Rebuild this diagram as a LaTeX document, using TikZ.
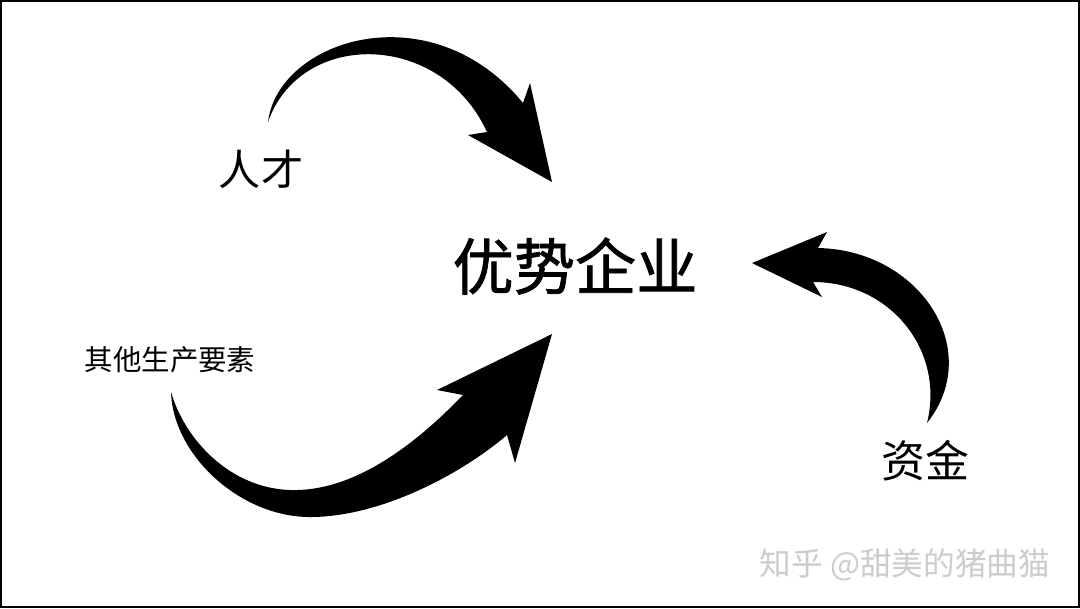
\documentclass[tikz,border=0pt]{standalone}
\usepackage{fontspec}
\newfontfamily\cjk{Noto Sans CJK SC}
\newfontfamily\cjkmid[FakeBold=1.2]{Noto Sans CJK SC}
\begin{document}
\begin{tikzpicture}[x=0.01cm,y=-0.01cm]
    \useasboundingbox (0,0) rectangle (1080,608);
    % Cadre fin autour de la figure
    \draw[line width=0.6pt] (1,1) rectangle (1079,607);

    % Textes
    \node[font=\cjkmid\fontsize{17.4pt}{20pt}\selectfont] (firm) at (575,266) {优势企业};
    \node[font=\cjk\fontsize{12pt}{14pt}\selectfont] (talent) at (261,169) {人才};
    \node[font=\cjk\fontsize{8.1pt}{10pt}\selectfont] (other) at (170,360) {其他生产要素};
    \node[font=\cjk\fontsize{12.5pt}{14pt}\selectfont] (capital) at (925,461) {资金};
    \node[font=\cjk\fontsize{9pt}{11pt}\selectfont, text=black!20] (mark) at (905,565) {知乎 @甜美的猪曲猫};

    % Flèche du haut (人才)
    \fill (268,122) .. controls (278,40) and (430,-10) .. (523,103)
        -- (530,83) -- (552,182) -- (468,135) -- (487,132)
        .. controls (440,30) and (300,30) .. (268,122) -- cycle;

    % Flèche du bas (其他生产要素)
    \fill (171,392) .. controls (173,455) and (240,517) .. (310,517)
        .. controls (380,517) and (460,475) .. (507,435)
        -- (515,463) -- (552,334) -- (437,390) -- (463,395)
        .. controls (410,450) and (350,492) .. (290,490)
        .. controls (230,488) and (185,440) .. (171,392) -- cycle;

    % Flèche de droite (资金)
    \fill (813,282) .. controls (890,282) and (945,350) .. (927,423)
        .. controls (985,350) and (920,250) .. (818,248)
        -- (827,232) -- (752,263) -- (822,297) -- (813,282) -- cycle;
\end{tikzpicture}
\end{document}
